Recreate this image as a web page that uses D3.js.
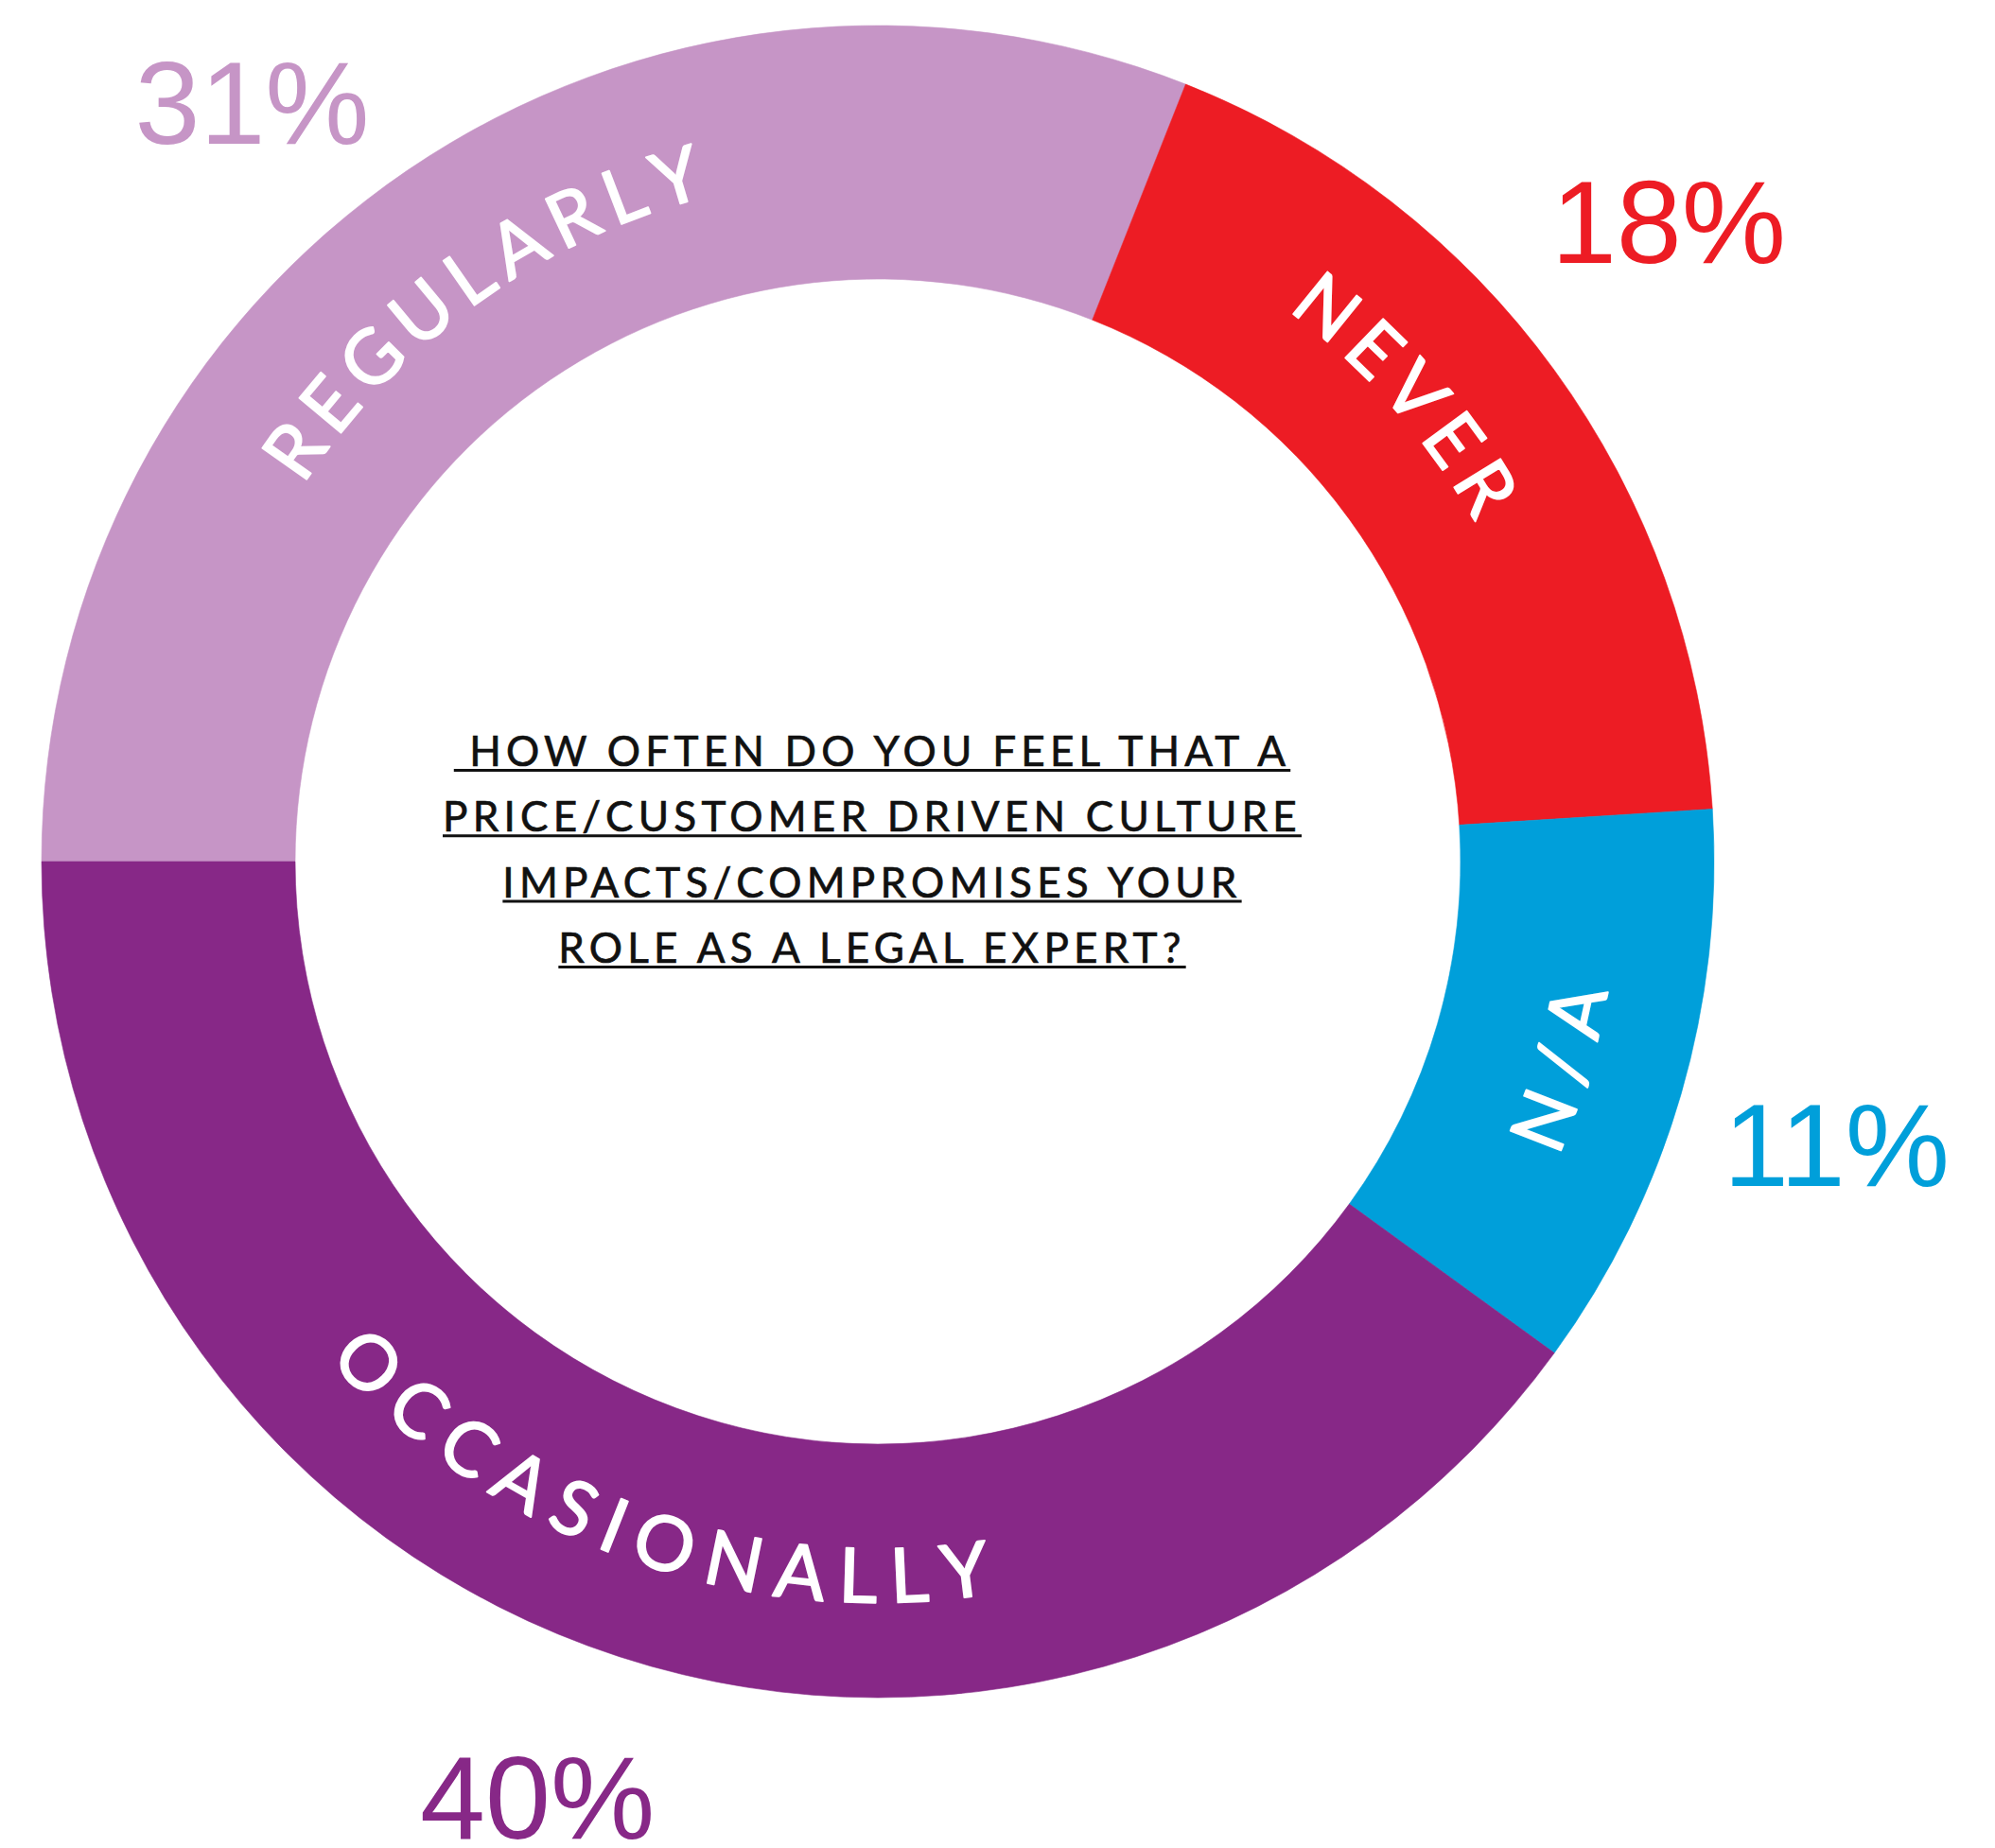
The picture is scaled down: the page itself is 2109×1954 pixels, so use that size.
<!DOCTYPE html>
<html>
<head>
<meta charset="utf-8">
<script src="https://cdn.jsdelivr.net/npm/d3@7"></script>
<style>
  html, body { margin: 0; padding: 0; background: #ffffff; }
  svg { display: block; }
</style>
</head>
<body>
<svg id="chart" width="2109" height="1954"></svg>
<script>
// ---- data ----
const categories = ["REGULARLY", "NEVER", "N/A", "OCCASIONALLY"];
const shares = [31, 18, 11, 40];
const shareLabels = ["31%", "18%", "11%", "40%"];
const colors = ["#C695C6", "#ED1C24", "#009FDA", "#872887"];
const titleLines = [
  " HOW OFTEN DO YOU FEEL THAT A",
  "PRICE/CUSTOMER DRIVEN CULTURE",
  "IMPACTS/COMPROMISES YOUR",
  "ROLE AS A LEGAL EXPERT?"
];

// ---- layout ----
const W = 2109, H = 1954;
const cx = 928, cy = 911;
const rOuter = 884, rInner = 616;
const ringFont = 80, ringMidR = 755;
const ringCapH = 0.7165 * ringFont;
const ringSpanRef = 506;               // arc length between first and last letter of the first label
const labelAngleShift = { "REGULARLY": -1.4, "NEVER": -5.5, "N/A": 0.6, "OCCASIONALLY": 1.5 };
const flippedLabels = new Set(["N/A", "OCCASIONALLY"]);
const valuePolar = {                   // [angle in degrees clockwise from top, distance]
  "REGULARLY": [-39.46, 1040.8],
  "NEVER": [51.0, 1075.7],
  "N/A": [106.4, 1056.4],
  "OCCASIONALLY": [200.0, 1052.0]
};
const valueFont = 124;
const titleCx = cx - 6, titleFont = 44, titleTop = 810, titleStep = 69.3, titleRefWidth = 908;

const deg = Math.PI / 180;
const svg = d3.select("#chart");
svg.append("rect").attr("width", W).attr("height", H).attr("fill", "#ffffff");

const color = d3.scaleOrdinal().domain(categories).range(colors);

const pie = d3.pie()
  .sort(null)
  .value(d => d.value)
  .startAngle(-Math.PI / 2)
  .endAngle(1.5 * Math.PI);

const arc = d3.arc().innerRadius(rInner).outerRadius(rOuter);

const rows = categories.map((c, i) => ({ name: c, value: shares[i], label: shareLabels[i] }));
const slices = pie(rows);

const root = svg.append("g").attr("transform", `translate(${cx},${cy})`);

root.selectAll("path.slice")
  .data(slices)
  .join("path")
  .attr("class", "slice")
  .attr("d", arc)
  .attr("fill", d => color(d.data.name))
  .attr("stroke", d => color(d.data.name))
  .attr("stroke-width", 0.6);

// ---- curved category names, laid out letter by letter ----
const ringFamily = "Lato, 'Open Sans', sans-serif";
const meter = svg.append("text")
  .attr("font-family", ringFamily)
  .attr("font-size", ringFont)
  .attr("visibility", "hidden");
function charWidth(ch) {
  meter.text(ch === " " ? "\u00a0" : ch);
  return meter.node().getComputedTextLength();
}

const refChars = Array.from(categories[0]);
const refW = refChars.map(charWidth);
const refInner = d3.sum(refW) - refW[0] / 2 - refW[refW.length - 1] / 2;
const ringSpacing = (ringSpanRef - refInner) / (refChars.length - 1);

const ringG = root.append("g");
slices.forEach(s => {
  const name = s.data.name;
  const flip = flippedLabels.has(name);
  const mid = (s.startAngle + s.endAngle) / 2 / deg + (labelAngleShift[name] || 0);
  const chars = Array.from(name);
  const widths = chars.map(charWidth);
  const total = d3.sum(widths) + ringSpacing * (chars.length - 1);
  let pos = -total / 2;
  chars.forEach((ch, k) => {
    const centre = pos + widths[k] / 2;
    pos += widths[k] + ringSpacing;
    const dA = centre / ringMidR / deg;
    const ang = flip ? mid - dA : mid + dA;
    ringG.append("text")
      .attr("transform", `rotate(${flip ? ang - 180 : ang})`)
      .attr("x", 0)
      .attr("y", flip ? ringMidR + ringCapH / 2 : -(ringMidR - ringCapH / 2))
      .attr("text-anchor", "middle")
      .attr("font-family", ringFamily)
      .attr("font-size", ringFont)
      .attr("fill", "#ffffff")
      .attr("stroke", "#ffffff")
      .attr("stroke-width", 1.8)
      .attr("stroke-linejoin", "round")
      .attr("stroke-linecap", "round")
      .text(ch);
  });
});
meter.remove();

// ---- percentage labels outside the ring ----
root.selectAll("text.value")
  .data(slices)
  .join("text")
  .attr("class", "value")
  .attr("x", d => Math.sin(valuePolar[d.data.name][0] * deg) * valuePolar[d.data.name][1])
  .attr("y", d => -Math.cos(valuePolar[d.data.name][0] * deg) * valuePolar[d.data.name][1] + 0.358 * valueFont)
  .attr("text-anchor", "middle")
  .attr("font-family", "'Liberation Sans', Arial, Helvetica, sans-serif")
  .attr("font-size", valueFont)
  .attr("fill", d => color(d.data.name))
  .text(d => d.data.label);

// ---- centre question, underlined ----
const titleFamily = "Lato, 'Open Sans', sans-serif";
const titleG = svg.append("g");
const tMeter = titleG.append("text")
  .attr("font-family", titleFamily)
  .attr("font-size", titleFont)
  .attr("visibility", "hidden");
function lineWidth(str) {
  tMeter.text(str.replace(/ /g, "\u00a0"));
  return tMeter.node().getComputedTextLength();
}
const refLine = titleLines[1];
const titleSpacing = (titleRefWidth - lineWidth(refLine)) / refLine.length;

titleLines.forEach((line, i) => {
  const txt = line.replace(/ /g, "\u00a0");
  const w = lineWidth(line) + titleSpacing * line.length;
  const x0 = titleCx - w / 2;
  const y = titleTop + i * titleStep;
  titleG.append("text")
    .attr("x", x0)
    .attr("y", y)
    .attr("font-family", titleFamily)
    .attr("font-size", titleFont)
    .attr("letter-spacing", titleSpacing)
    .attr("fill", "#111111")
    .attr("stroke", "#111111")
    .attr("stroke-width", 0.7)
    .text(txt);
  titleG.append("line")
    .attr("x1", x0).attr("x2", x0 + w)
    .attr("y1", y + 4.5).attr("y2", y + 4.5)
    .attr("stroke", "#111111")
    .attr("stroke-width", 3);
});
tMeter.remove();
</script>
</body>
</html>
